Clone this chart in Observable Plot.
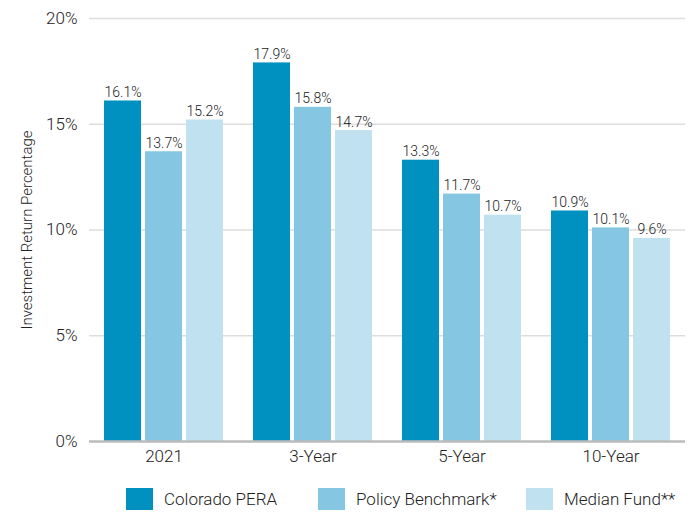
<!DOCTYPE html>
<html>
<head>
<meta charset="utf-8">
<script src="https://cdn.jsdelivr.net/npm/d3@7"></script>
<script src="https://cdn.jsdelivr.net/npm/@observablehq/plot@0.6"></script>
<style>
  body { margin: 0; background: #fff; font-family: Roboto, sans-serif; }
  #chart svg [aria-label="y-axis label"] text, #chart svg [aria-label="y-axis label"] { font-size: 15px; }
  .legend { height: 39px; position: relative; }
  .item { position: absolute; top: 13px; display: flex; align-items: center; font-size: 17px; color: #222; font-weight: 300; }
  .sw { width: 27px; height: 22px; margin-right: 11px; }
</style>
</head>
<body>
<div id="chart"></div>
<div class="legend" id="legend"></div>
<script>
const periods = ["2021", "3-Year", "5-Year", "10-Year"];
const seriesNames = ["Colorado PERA", "Policy Benchmark*", "Median Fund**"];
const pera = [16.1, 17.9, 13.3, 10.9];
const benchmark = [13.7, 15.8, 11.7, 10.1];
const median = [15.2, 14.7, 10.7, 9.6];
const colors = ["#0091c1", "#85c7e2", "#bfe1f0"];
const yTicks = [0, 5, 10, 15, 20];

const seriesValues = [pera, benchmark, median];
const data = [];
periods.forEach((p, i) => {
  seriesNames.forEach((s, j) => data.push({period: p, series: s, value: seriesValues[j][i]}));
});

const chart = Plot.plot({
  width: 690,
  height: 475,
  marginLeft: 88,
  marginRight: 5,
  marginTop: 18,
  marginBottom: 34,
  style: {fontSize: "17px", fontFamily: "Roboto, sans-serif", fontWeight: 300, color: "#222"},
  fx: {domain: periods, padding: 0, axis: "bottom", tickSize: 0, tickPadding: 8, label: null},
  x: {domain: seriesNames, axis: null, paddingInner: 0.1, paddingOuter: 0.36},
  y: {domain: [0, 20], ticks: yTicks, tickFormat: d => d + "%", tickSize: 0, tickPadding: 12,
      label: "Investment Return Percentage", labelAnchor: "center", labelOffset: 68, labelArrow: false},
  color: {domain: seriesNames, range: colors},
  marks: [
    Plot.ruleY(yTicks.slice(1), {stroke: "#dddddd", strokeWidth: 1.5}),
    Plot.barY(data, {fx: "period", x: "series", y: "value", fill: "series"}),
    Plot.text(data, {fx: "period", x: "series", y: "value", text: d => d.value.toFixed(1) + "%", lineAnchor: "bottom", dy: -4, fontSize: 14, fontWeight: 300, fill: "#1a1a1a"}),
    Plot.ruleY([0], {stroke: "#bbbbbb", strokeWidth: 2.5})
  ]
});
document.getElementById("chart").appendChild(chart);

const lefts = [126, 318, 526];
const legend = document.getElementById("legend");
seriesNames.forEach((s, i) => {
  const item = document.createElement("div");
  item.className = "item";
  item.style.left = lefts[i] + "px";
  const sw = document.createElement("div");
  sw.className = "sw";
  sw.style.background = colors[i];
  const t = document.createElement("span");
  t.textContent = s;
  item.appendChild(sw); item.appendChild(t);
  legend.appendChild(item);
});
</script>
</body>
</html>
